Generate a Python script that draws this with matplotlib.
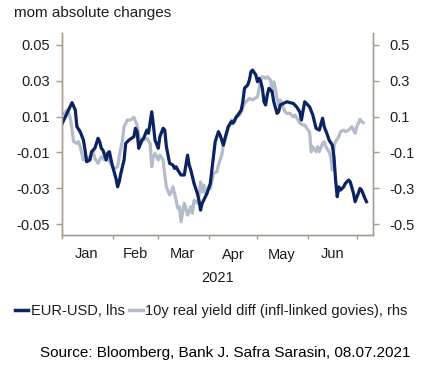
import matplotlib
matplotlib.use("Agg")
import matplotlib.pyplot as plt
from matplotlib.lines import Line2D
import pandas as pd

plt.rcParams["font.family"] = ["Liberation Sans", "DejaVu Sans"]

# EUR-USD, mom absolute change (lhs)
eurusd_dates = [
    "2021-01-01", "2021-01-07", "2021-01-09", "2021-01-10", "2021-01-12", "2021-01-14",
    "2021-01-15", "2021-01-16", "2021-01-18", "2021-01-19", "2021-01-21", "2021-01-23",
    "2021-01-24", "2021-01-25", "2021-01-26", "2021-01-28", "2021-01-29", "2021-01-30",
    "2021-01-31", "2021-02-01", "2021-02-03", "2021-02-04", "2021-02-05", "2021-02-06",
    "2021-02-08", "2021-02-09", "2021-02-11", "2021-02-14", "2021-02-15", "2021-02-16",
    "2021-02-17", "2021-02-19", "2021-02-20", "2021-02-22", "2021-02-23", "2021-02-25",
    "2021-02-26", "2021-02-27", "2021-03-01", "2021-03-02", "2021-03-04", "2021-03-05",
    "2021-03-06", "2021-03-08", "2021-03-10", "2021-03-11", "2021-03-12", "2021-03-13",
    "2021-03-15", "2021-03-17", "2021-03-19", "2021-03-20", "2021-03-21", "2021-03-23",
    "2021-03-25", "2021-03-26", "2021-03-27", "2021-03-28", "2021-03-30", "2021-03-31",
    "2021-04-02", "2021-04-04", "2021-04-05", "2021-04-07", "2021-04-08", "2021-04-10",
    "2021-04-11", "2021-04-13", "2021-04-15", "2021-04-16", "2021-04-18", "2021-04-19",
    "2021-04-21", "2021-04-22", "2021-04-23", "2021-04-25", "2021-04-26", "2021-04-27",
    "2021-04-28", "2021-04-30", "2021-05-01", "2021-05-02", "2021-05-03", "2021-05-04",
    "2021-05-05", "2021-05-06", "2021-05-07", "2021-05-08", "2021-05-10", "2021-05-11",
    "2021-05-13", "2021-05-14", "2021-05-15", "2021-05-17", "2021-05-19", "2021-05-21",
    "2021-05-23", "2021-05-25", "2021-05-27", "2021-05-28", "2021-05-30", "2021-05-31",
    "2021-06-02", "2021-06-04", "2021-06-05", "2021-06-06", "2021-06-08", "2021-06-10",
    "2021-06-11", "2021-06-13", "2021-06-14", "2021-06-16", "2021-06-17", "2021-06-18",
    "2021-06-19", "2021-06-20", "2021-06-21", "2021-06-23", "2021-06-24", "2021-06-26",
    "2021-06-27", "2021-06-29", "2021-06-30", "2021-07-02", "2021-07-03", "2021-07-04",
    "2021-07-06", "2021-07-07",
]
eurusd = [
    0.0063, 0.0178, 0.0137, 0.0044, 0.0016, -0.0031,
    -0.0087, -0.0152, -0.0142, -0.0096, -0.0077, -0.0021,
    -0.0040, -0.0077, -0.0087, -0.0142, -0.0103, -0.0096,
    -0.0142, -0.0180, -0.0245, -0.0292, -0.0264, -0.0217,
    -0.0142, -0.0049, -0.0031, -0.0012, 0.0035, 0.0016,
    -0.0077, -0.0031, -0.0021, 0.0025, 0.0007, 0.0127,
    0.0053, -0.0031, -0.0077, -0.0012, 0.0035, 0.0025,
    -0.0068, -0.0161, -0.0170, -0.0189, -0.0180, -0.0198,
    -0.0226, -0.0226, -0.0115, -0.0170, -0.0198, -0.0273,
    -0.0328, -0.0366, -0.0422, -0.0384, -0.0347, -0.0328,
    -0.0273, -0.0115, -0.0040, 0.0016, -0.0003, -0.0059,
    -0.0021, 0.0044, 0.0072, 0.0063, 0.0099, 0.0109,
    0.0137, 0.0183, 0.0258, 0.0277, 0.0304, 0.0351,
    0.0360, 0.0332, 0.0295, 0.0314, 0.0295, 0.0258,
    0.0183, 0.0165, 0.0221, 0.0258, 0.0239, 0.0183,
    0.0118, 0.0127, 0.0165, 0.0174, 0.0183, 0.0178,
    0.0174, 0.0155, 0.0127, 0.0081, 0.0183, 0.0174,
    0.0155, 0.0109, 0.0072, 0.0035, 0.0025, 0.0091,
    0.0044, -0.0003, -0.0031, -0.0059, -0.0124, -0.0254,
    -0.0347, -0.0292, -0.0310, -0.0292, -0.0273, -0.0254,
    -0.0264, -0.0328, -0.0375, -0.0328, -0.0301, -0.0310,
    -0.0356, -0.0375,
]

# 10y real yield diff (infl-linked govies), mom absolute change (rhs)
yield_dates = [
    "2021-01-02", "2021-01-04", "2021-01-06", "2021-01-07", "2021-01-08", "2021-01-10",
    "2021-01-11", "2021-01-12", "2021-01-14", "2021-01-15", "2021-01-17", "2021-01-19",
    "2021-01-20", "2021-01-21", "2021-01-23", "2021-01-24", "2021-01-25", "2021-01-27",
    "2021-01-29", "2021-01-30", "2021-02-01", "2021-02-02", "2021-02-04", "2021-02-05",
    "2021-02-07", "2021-02-08", "2021-02-10", "2021-02-12", "2021-02-14", "2021-02-16",
    "2021-02-17", "2021-02-18", "2021-02-20", "2021-02-22", "2021-02-24", "2021-02-25",
    "2021-02-26", "2021-02-27", "2021-03-01", "2021-03-02", "2021-03-04", "2021-03-05",
    "2021-03-06", "2021-03-08", "2021-03-09", "2021-03-10", "2021-03-12", "2021-03-13",
    "2021-03-14", "2021-03-15", "2021-03-17", "2021-03-18", "2021-03-19", "2021-03-21",
    "2021-03-22", "2021-03-23", "2021-03-25", "2021-03-26", "2021-03-27", "2021-03-28",
    "2021-03-29", "2021-03-30", "2021-04-01", "2021-04-02", "2021-04-04", "2021-04-06",
    "2021-04-07", "2021-04-09", "2021-04-10", "2021-04-12", "2021-04-13", "2021-04-15",
    "2021-04-17", "2021-04-18", "2021-04-20", "2021-04-21", "2021-04-23", "2021-04-25",
    "2021-04-26", "2021-04-28", "2021-05-01", "2021-05-02", "2021-05-03", "2021-05-04",
    "2021-05-06", "2021-05-07", "2021-05-09", "2021-05-10", "2021-05-11", "2021-05-12",
    "2021-05-13", "2021-05-14", "2021-05-15", "2021-05-17", "2021-05-18", "2021-05-19",
    "2021-05-21", "2021-05-23", "2021-05-24", "2021-05-26", "2021-05-27", "2021-05-29",
    "2021-05-30", "2021-06-01", "2021-06-02", "2021-06-03", "2021-06-04", "2021-06-06",
    "2021-06-07", "2021-06-08", "2021-06-10", "2021-06-11", "2021-06-12", "2021-06-14",
    "2021-06-15", "2021-06-16", "2021-06-17", "2021-06-18", "2021-06-20", "2021-06-21",
    "2021-06-23", "2021-06-24", "2021-06-26", "2021-06-28", "2021-06-29", "2021-06-30",
    "2021-07-01", "2021-07-02", "2021-07-03", "2021-07-04", "2021-07-05",
]
yield_diff = [
    0.118, 0.137, 0.091, 0.025, -0.040, -0.049,
    -0.040, -0.068, -0.142, -0.124, -0.133, -0.115,
    -0.096, -0.133, -0.161, -0.142, -0.124, -0.142,
    -0.115, -0.152, -0.180, -0.189, -0.180, -0.124,
    -0.031, 0.044, 0.081, 0.081, 0.096, 0.053,
    -0.003, -0.040, -0.031, -0.021, -0.049, -0.180,
    -0.124, -0.105, -0.142, -0.115, -0.142, -0.226,
    -0.292, -0.338, -0.320, -0.292, -0.366, -0.412,
    -0.403, -0.487, -0.384, -0.412, -0.450, -0.403,
    -0.440, -0.366, -0.384, -0.347, -0.264, -0.320,
    -0.282, -0.328, -0.292, -0.301, -0.217, -0.208,
    -0.170, -0.115, -0.059, -0.003, 0.035, 0.081,
    0.072, 0.099, 0.109, 0.127, 0.174, 0.193,
    0.202, 0.193, 0.211, 0.258, 0.304, 0.323,
    0.314, 0.323, 0.304, 0.239, 0.295, 0.258,
    0.202, 0.165, 0.193, 0.146, 0.127, 0.118,
    0.118, 0.099, 0.109, 0.081, 0.063, 0.053,
    0.053, 0.025, 0.016, -0.096, -0.068, -0.096,
    -0.068, -0.096, -0.049, -0.040, -0.068, -0.096,
    -0.124, -0.198, -0.068, -0.040, -0.012, 0.016,
    0.025, 0.016, 0.025, 0.044, 0.025, 0.007,
    0.044, 0.063, 0.085, 0.072, 0.066,
]

month_labels = ["Jan", "Feb", "Mar", "Apr", "May", "Jun"]
month_mids = ["2021-01-16", "2021-02-15", "2021-03-16", "2021-04-16", "2021-05-16", "2021-06-16"]
month_starts = ["2021-01-01", "2021-02-01", "2021-03-01", "2021-04-01",
                "2021-05-01", "2021-06-01", "2021-07-01"]
left_ticks = [-0.05, -0.03, -0.01, 0.01, 0.03, 0.05]
right_ticks = [-0.5, -0.3, -0.1, 0.1, 0.3, 0.5]

NAVY = "#0b2263"
SILVER = "#b3bccb"
SPINE = "#a89c90"
TEXT = "#1e1e1e"

fig = plt.figure(figsize=(4.23, 3.68), dpi=100)
ax = fig.add_axes([62 / 423, 1 - 235 / 368, 311 / 423, 202 / 368])
ax2 = ax.twinx()
# keep EUR-USD line above the yield line
ax.set_zorder(ax2.get_zorder() + 1)
ax.patch.set_visible(False)

ax2.plot(pd.to_datetime(yield_dates), yield_diff, color=SILVER, lw=2.3,
         solid_joinstyle="round")
ax.plot(pd.to_datetime(eurusd_dates), eurusd, color=NAVY, lw=2.3,
        solid_joinstyle="round")

ax.set_xlim(pd.Timestamp("2020-12-31 20:00"), pd.Timestamp("2021-07-11"))
ax.set_ylim(-0.0561, 0.0567)
ax2.set_ylim(-0.561, 0.567)

ax.set_yticks(left_ticks, labels=[f"{t:.2f}" for t in left_ticks])
ax2.set_yticks(right_ticks, labels=[f"{t:.1f}" for t in right_ticks])

ax.set_xticks(pd.to_datetime(month_starts), labels=[""] * len(month_starts))
ax.set_xticks(pd.to_datetime(month_mids), labels=month_labels, minor=True)
ax.set_xlabel("2021", fontsize=10.5, color=TEXT, labelpad=7)

for a in (ax, ax2):
    a.spines["top"].set_visible(False)
    for s in ("left", "right", "bottom"):
        a.spines[s].set_color(SPINE)
        a.spines[s].set_linewidth(1.0)

ax.tick_params(axis="y", direction="out", length=4, width=1, color=SPINE,
               labelsize=10.5, labelcolor=TEXT, pad=5)
ax2.tick_params(axis="y", direction="out", length=4, width=1, color=SPINE,
                labelsize=10.5, labelcolor=TEXT, pad=8)
ax.tick_params(axis="x", which="major", direction="out", length=3, width=1,
               color=SPINE)
ax.tick_params(axis="x", which="minor", length=0, labelsize=10.5,
               labelcolor=TEXT, pad=9)

fig.text(14 / 423, 1 - 13 / 368, "mom absolute changes", ha="left", va="center",
         fontsize=11, color=TEXT)

handles = [Line2D([], [], color=NAVY, lw=2.5), Line2D([], [], color=SILVER, lw=2.5)]
fig.legend(handles, ["EUR-USD, lhs", "10y real yield diff (infl-linked govies), rhs"],
           loc="center", bbox_to_anchor=(0.5, 1 - 311 / 368), ncol=2, frameon=False,
           handlelength=0.9, handletextpad=0.2, columnspacing=0.3,
           prop={"size": 10.5}, labelcolor=TEXT)

fig.text(410 / 423, 1 - 353 / 368, "Source: Bloomberg, Bank J. Safra Sarasin, 08.07.2021",
         ha="right", va="center", fontsize=11, color="black")

fig.savefig("out.png", dpi=100)
